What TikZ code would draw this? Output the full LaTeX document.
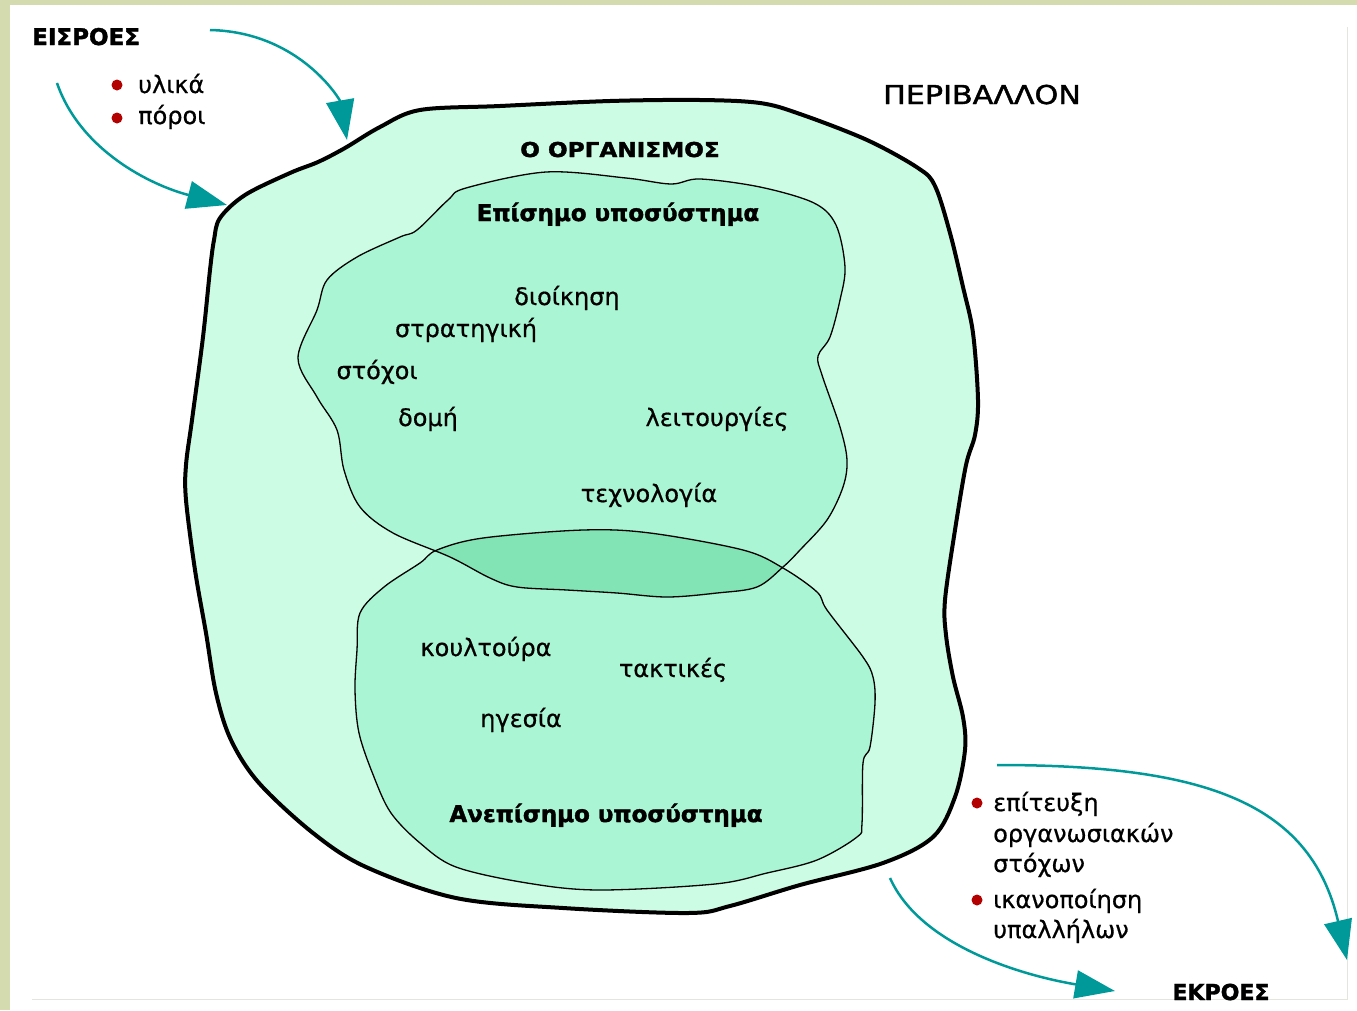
\documentclass[tikz,border=0pt]{standalone}
\usepackage{fontspec}
\setmainfont{DejaVu Sans}
\newfontfamily\bodyfont{DejaVu Sans}[FakeBold=0.6]
\newfontfamily\medfont{DejaVu Sans}[FakeBold=1.6]
\newfontfamily\headfont{DejaVu Sans}[BoldFeatures={FakeBold=1.6}]
\usetikzlibrary{arrows.meta}
\definecolor{outerfill}{HTML}{CCFCE4}
\definecolor{innerfill}{HTML}{AAF5D3}
\definecolor{lensfill}{HTML}{82E4B4}
\definecolor{teal}{HTML}{009999}
\definecolor{bulletred}{HTML}{B30000}
\definecolor{framekhaki}{HTML}{D3DBAF}
\definecolor{frameline}{HTML}{E4E6DE}
\tikzset{
  txt/.style={font=\bodyfont\fontsize{24}{28}\selectfont, inner sep=0pt},
  btxt/.style={font=\headfont\bfseries\fontsize{23}{27}\selectfont, inner sep=0pt},
  flowarrow/.style={draw=teal, line width=2.5pt, -{Triangle[length=40pt,width=28pt]}},
  bulletdot/.style={circle, fill=bulletred, minimum size=11pt, inner sep=0pt},
  outerline/.style={draw=black, line width=4pt, line join=round},
  innerline/.style={draw=black, line width=1.3pt, line join=round},
}
\begin{document}
\begin{tikzpicture}[x=1pt,y=-1pt]
\useasboundingbox (0,0) rectangle (1357,1010);
% frame
\fill[framekhaki] (0,0) rectangle (1357,5);
\fill[framekhaki] (0,0) rectangle (10,1010);
\draw[frameline, line width=1pt] (1347,27) -- (1347,999) -- (32,999);

% outer organism blob
\path[fill=outerfill, outerline] plot[smooth cycle, tension=0.55] coordinates {
 (220,218) (245,195) (290,173) (318,162) (345,148) (380,127) (420,110) (500,106)
 (610,101) (700,100) (760,103) (800,114) (867,140) (918,168) (935,186) (950,233)
 (963,287) (973,333) (978,400) (975,435) (966,465) (955,530) (945,600) (946,635)
 (953,677) (963,717) (965,750) (955,797) (933,837) (883,863) (800,885) (730,906)
 (688,913) (563,908) (456,898) (366,867) (313,833) (259,783) (231,740) (216,693)
 (206,633) (195,570) (186,500) (186,465) (192,420) (203,337) (210,270) (214,240)};

% formal subsystem fill
\fill[innerfill] plot[smooth cycle, tension=0.55] coordinates {
 (466,188) (546,172) (626,178) (671,184) (700,179) (760,187) (814,203) (836,225)
 (845,267) (840,300) (830,337) (818,356) (822,375) (840,427) (847,460) (843,487)
 (827,520) (800,550) (783,567) (757,587) (717,593) (667,597) (617,593) (567,590)
 (517,587) (490,578) (450,557) (393,533) (360,507) (344,470) (337,430) (317,397)
 (298,358) (317,310) (327,280) (357,257) (400,237) (417,230) (448,200)};
% informal subsystem fill
\fill[innerfill] plot[smooth cycle, tension=0.55] coordinates {
 (360,613) (384,587) (420,563) (437,550) (483,538) (583,530) (650,533) (743,550)
 (783,568) (817,592) (827,610) (863,657) (873,677) (875,703) (870,747) (863,763)
 (862,823) (857,837) (817,860) (767,873) (715,884) (599,890) (527,883) (456,867)
 (420,843) (391,813) (374,777) (359,733) (355,690) (357,650)};
% overlap lens
\begin{scope}
\clip plot[smooth cycle, tension=0.55] coordinates {
 (466,188) (546,172) (626,178) (671,184) (700,179) (760,187) (814,203) (836,225)
 (845,267) (840,300) (830,337) (818,356) (822,375) (840,427) (847,460) (843,487)
 (827,520) (800,550) (783,567) (757,587) (717,593) (667,597) (617,593) (567,590)
 (517,587) (490,578) (450,557) (393,533) (360,507) (344,470) (337,430) (317,397)
 (298,358) (317,310) (327,280) (357,257) (400,237) (417,230) (448,200)};
\fill[lensfill] plot[smooth cycle, tension=0.55] coordinates {
 (360,613) (384,587) (420,563) (437,550) (483,538) (583,530) (650,533) (743,550)
 (783,568) (817,592) (827,610) (863,657) (873,677) (875,703) (870,747) (863,763)
 (862,823) (857,837) (817,860) (767,873) (715,884) (599,890) (527,883) (456,867)
 (420,843) (391,813) (374,777) (359,733) (355,690) (357,650)};
\end{scope}
% outlines
\path[innerline] plot[smooth cycle, tension=0.55] coordinates {
 (466,188) (546,172) (626,178) (671,184) (700,179) (760,187) (814,203) (836,225)
 (845,267) (840,300) (830,337) (818,356) (822,375) (840,427) (847,460) (843,487)
 (827,520) (800,550) (783,567) (757,587) (717,593) (667,597) (617,593) (567,590)
 (517,587) (490,578) (450,557) (393,533) (360,507) (344,470) (337,430) (317,397)
 (298,358) (317,310) (327,280) (357,257) (400,237) (417,230) (448,200)};
\path[innerline] plot[smooth cycle, tension=0.55] coordinates {
 (360,613) (384,587) (420,563) (437,550) (483,538) (583,530) (650,533) (743,550)
 (783,568) (817,592) (827,610) (863,657) (873,677) (875,703) (870,747) (863,763)
 (862,823) (857,837) (817,860) (767,873) (715,884) (599,890) (527,883) (456,867)
 (420,843) (391,813) (374,777) (359,733) (355,690) (357,650)};

% arrows (free ends as named coordinates)
\coordinate (inAs) at (210,30);
\coordinate (inAe) at (347,140);
\coordinate (inBs) at (57,83);
\coordinate (inBe) at (227,205);
\coordinate (outAs) at (997,765);
\coordinate (outAe) at (1347,960);
\coordinate (outBs) at (890,878);
\coordinate (outBe) at (1115,991);
\draw[flowarrow] (inAs) .. controls (300,32) and (340,100) .. (inAe);
\draw[flowarrow] (inBs) .. controls (80,150) and (150,185) .. (inBe);
\draw[flowarrow] (outAs) .. controls (1200,765) and (1310,800) .. (outAe);
\draw[flowarrow] (outBs) .. controls (920,945) and (1020,975) .. (outBe);

% texts
\node[btxt, anchor=base west] (eisroes) at (32,45) {ΕΙΣΡΟΕΣ};
\node[bulletdot] (b1) at (117,85) {};
\node[txt, anchor=base west] (ylika) at (138,93) {υλικά};
\node[bulletdot] (b2) at (117,118) {};
\node[txt, anchor=base west] (poroi) at (138,124) {πόροι};
\node[inner sep=0pt, font=\medfont\fontsize{26}{30}\selectfont, anchor=base] (periv) at (982,104) {\scalebox{1.16}[1]{ΠΕΡΙΒΑΛΛΟΝ}};
\node[btxt, font=\headfont\bfseries\fontsize{20.5}{24}\selectfont, anchor=base] (organ) at (620,157) {\scalebox{1.13}[1]{Ο ΟΡΓΑΝΙΣΜΟΣ}};
\node[btxt, anchor=base] (formal) at (618,221) {Επίσημο υποσύστημα};
\node[txt, anchor=base] (dioik) at (567,305) {διοίκηση};
\node[txt, anchor=base] (strat) at (466,337) {στρατηγική};
\node[txt, anchor=base] (stoxoi) at (377,379) {στόχοι};
\node[txt, anchor=base] (domi) at (428,426) {δομή};
\node[txt, anchor=base] (leit) at (717,426) {λειτουργίες};
\node[txt, anchor=base] (tech) at (649,502) {τεχνολογία};
\node[txt, anchor=base] (koult) at (486,656) {κουλτούρα};
\node[txt, anchor=base] (takt) at (673,677) {τακτικές};
\node[txt, anchor=base] (igesia) at (521,727) {ηγεσία};
\node[btxt, anchor=base] (informal) at (606,822) {Ανεπίσημο υποσύστημα};
\node[bulletdot] (b3) at (977,803) {};
\node[txt, anchor=base west] (ep1) at (993,811) {επίτευξη};
\node[txt, anchor=base west] (ep2) at (993,842) {οργανωσιακών};
\node[txt, anchor=base west] (ep3) at (993,872) {στόχων};
\node[bulletdot] (b4) at (977,900) {};
\node[txt, anchor=base west] (ik1) at (993,908) {ικανοποίηση};
\node[txt, anchor=base west] (ik2) at (993,938) {υπαλλήλων};
\node[btxt, font=\headfont\bfseries\fontsize{22}{26}\selectfont, anchor=base] (ekroes) at (1221,1000) {ΕΚΡΟΕΣ};
\end{tikzpicture}
\end{document}
